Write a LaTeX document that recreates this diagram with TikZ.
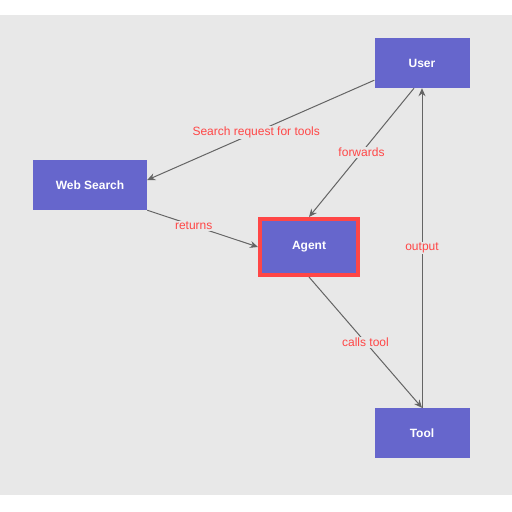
\documentclass[tikz,border=0pt]{standalone}
\usepackage{fontspec}
\setmainfont{Liberation Sans}
\usetikzlibrary{arrows.meta}
\definecolor{nodeblue}{RGB}{102,102,204}
\definecolor{bggray}{RGB}{232,232,232}
\definecolor{lblred}{RGB}{255,70,70}
\definecolor{edgegray}{RGB}{100,100,100}
\begin{document}
\begin{tikzpicture}[x=1pt,y=-1pt,
  box/.style={draw=none,fill=nodeblue,text=white,font=\fontsize{12}{13}\selectfont\bfseries,minimum width=95pt,minimum height=50pt,inner sep=2pt},
  focus/.style={box,draw=lblred,line width=4pt,minimum width=98pt,minimum height=56pt},
  conn/.style={draw=edgegray,line width=1pt,-{Stealth[length=8pt,width=7pt]}},
  lbl/.style={text=lblred,font=\fontsize{12}{13}\selectfont,inner sep=1pt,fill=bggray}]
\useasboundingbox (0,0) rectangle (512,512);
\fill[bggray] (0,15) rectangle (512,495);
\node[box] (user) at (422,63) {User};
\node[box,minimum width=114pt] (web) at (90,185) {Web Search};
\node[focus] (agent) at (309,247) {Agent};
\node[box] (tool) at (422,433) {Tool};
\path (user.south west) ++(0,-8) coordinate (u1);
\draw[conn] (u1) -- (web.east |- 0,180) node[pos=0.52,lbl] {Search request for tools};
\draw[conn] (web.south east) -- (agent.west) node[pos=0.42,lbl] {returns};
\path (user.south) ++(-8,0) coordinate (u2);
\draw[conn] (u2) -- (agent.north) node[pos=0.5,lbl] {forwards};
\draw[conn] (agent.south) -- (tool.north) node[pos=0.5,lbl] {calls tool};
\draw[conn] (tool.north) -- (user.south) node[pos=0.5,lbl] {output};
\end{tikzpicture}
\end{document}
